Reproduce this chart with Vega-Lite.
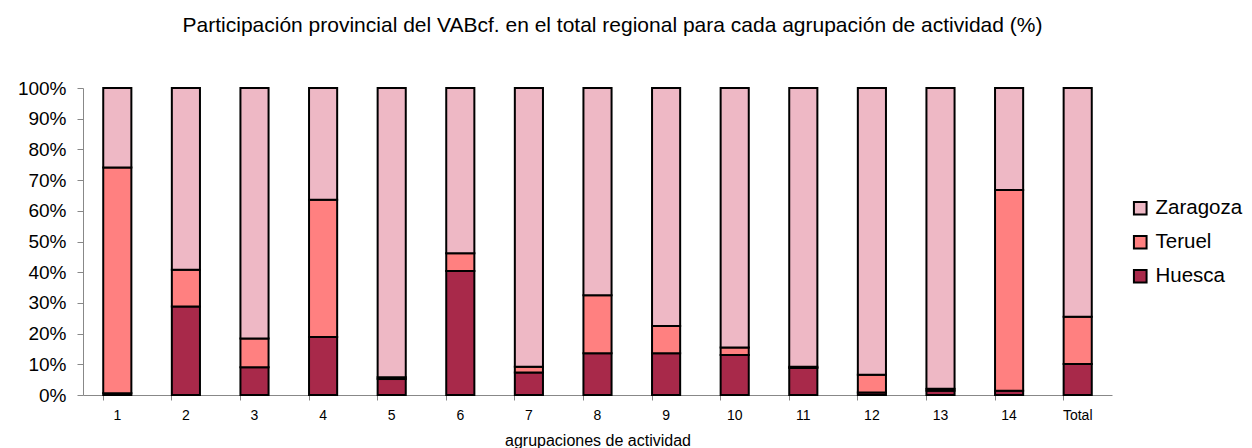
{
  "$schema": "https://vega.github.io/schema/vega-lite/v6.json",
  "width": 1029,
  "height": 307,
  "autosize": "none",
  "padding": {"left": 83, "top": 88, "right": 140, "bottom": 53},
  "background": "white",
  "title": {
    "text": "Participación provincial del VABcf. en el total regional para cada agrupación de actividad (%)",
    "font": "Liberation Sans",
    "fontSize": 21,
    "fontWeight": "normal",
    "color": "black",
    "anchor": "middle",
    "dx": 15,
    "offset": 43
  },
  "config": {
    "view": {"stroke": null},
    "font": "Liberation Sans"
  },
  "data": {
    "values": [
      {"grupo": "1", "provincia": "Huesca", "valor": 0.6},
      {"grupo": "1", "provincia": "Teruel", "valor": 73.5},
      {"grupo": "1", "provincia": "Zaragoza", "valor": 25.9},
      {"grupo": "2", "provincia": "Huesca", "valor": 28.8},
      {"grupo": "2", "provincia": "Teruel", "valor": 12.0},
      {"grupo": "2", "provincia": "Zaragoza", "valor": 59.2},
      {"grupo": "3", "provincia": "Huesca", "valor": 9.0},
      {"grupo": "3", "provincia": "Teruel", "valor": 9.4},
      {"grupo": "3", "provincia": "Zaragoza", "valor": 81.6},
      {"grupo": "4", "provincia": "Huesca", "valor": 18.9},
      {"grupo": "4", "provincia": "Teruel", "valor": 44.7},
      {"grupo": "4", "provincia": "Zaragoza", "valor": 36.4},
      {"grupo": "5", "provincia": "Huesca", "valor": 5.2},
      {"grupo": "5", "provincia": "Teruel", "valor": 0.6},
      {"grupo": "5", "provincia": "Zaragoza", "valor": 94.2},
      {"grupo": "6", "provincia": "Huesca", "valor": 40.4},
      {"grupo": "6", "provincia": "Teruel", "valor": 5.8},
      {"grupo": "6", "provincia": "Zaragoza", "valor": 53.8},
      {"grupo": "7", "provincia": "Huesca", "valor": 7.3},
      {"grupo": "7", "provincia": "Teruel", "valor": 1.9},
      {"grupo": "7", "provincia": "Zaragoza", "valor": 90.8},
      {"grupo": "8", "provincia": "Huesca", "valor": 13.6},
      {"grupo": "8", "provincia": "Teruel", "valor": 18.9},
      {"grupo": "8", "provincia": "Zaragoza", "valor": 67.5},
      {"grupo": "9", "provincia": "Huesca", "valor": 13.6},
      {"grupo": "9", "provincia": "Teruel", "valor": 8.9},
      {"grupo": "9", "provincia": "Zaragoza", "valor": 77.5},
      {"grupo": "10", "provincia": "Huesca", "valor": 13.0},
      {"grupo": "10", "provincia": "Teruel", "valor": 2.5},
      {"grupo": "10", "provincia": "Zaragoza", "valor": 84.5},
      {"grupo": "11", "provincia": "Huesca", "valor": 8.8},
      {"grupo": "11", "provincia": "Teruel", "valor": 0.4},
      {"grupo": "11", "provincia": "Zaragoza", "valor": 90.8},
      {"grupo": "12", "provincia": "Huesca", "valor": 0.8},
      {"grupo": "12", "provincia": "Teruel", "valor": 5.8},
      {"grupo": "12", "provincia": "Zaragoza", "valor": 93.4},
      {"grupo": "13", "provincia": "Huesca", "valor": 1.4},
      {"grupo": "13", "provincia": "Teruel", "valor": 0.6},
      {"grupo": "13", "provincia": "Zaragoza", "valor": 98.0},
      {"grupo": "14", "provincia": "Huesca", "valor": 1.4},
      {"grupo": "14", "provincia": "Teruel", "valor": 65.4},
      {"grupo": "14", "provincia": "Zaragoza", "valor": 33.2},
      {"grupo": "Total", "provincia": "Huesca", "valor": 10.1},
      {"grupo": "Total", "provincia": "Teruel", "valor": 15.4},
      {"grupo": "Total", "provincia": "Zaragoza", "valor": 74.5}
    ]
  },
  "mark": {"type": "bar", "stroke": "black", "strokeWidth": 2},
  "encoding": {
    "x": {
      "field": "grupo",
      "type": "nominal",
      "sort": null,
      "scale": {"paddingInner": 0.59, "paddingOuter": 0.295},
      "axis": {
        "title": "agrupaciones de actividad",
        "titleFont": "Liberation Sans",
        "titleFontSize": 16,
        "titleFontWeight": "normal",
        "titleColor": "black",
        "titlePadding": 10,
        "labelAngle": 0,
        "labelFontSize": 14,
        "labelColor": "black",
        "labelPadding": 8,
        "bandPosition": 0,
        "domainColor": "#888888",
        "tickColor": "#888888",
        "tickSize": 5,
        "grid": false
      }
    },
    "y": {
      "field": "valor",
      "type": "quantitative",
      "stack": "zero",
      "scale": {"domain": [0, 100], "nice": false},
      "axis": {
        "title": null,
        "values": [0, 10, 20, 30, 40, 50, 60, 70, 80, 90, 100],
        "labelExpr": "datum.value + '%'",
        "labelFontSize": 19,
        "labelColor": "black",
        "labelPadding": 11,
        "domainColor": "#888888",
        "tickColor": "#888888",
        "tickSize": 6,
        "grid": false
      }
    },
    "order": {"field": "provincia", "type": "nominal", "sort": "ascending"},
    "color": {
      "field": "provincia",
      "type": "nominal",
      "scale": {
        "domain": ["Zaragoza", "Teruel", "Huesca"],
        "range": ["#EEB8C5", "#FF8080", "#A8294A"]
      },
      "legend": {
        "title": null,
        "orient": "none",
        "legendX": 1047,
        "legendY": 110,
        "symbolType": "square",
        "symbolSize": 160,
        "symbolStrokeColor": "black",
        "symbolStrokeWidth": 2,
        "labelFontSize": 20.5,
        "labelColor": "black",
        "rowPadding": 12,
        "labelOffset": 5
      }
    }
  }
}
